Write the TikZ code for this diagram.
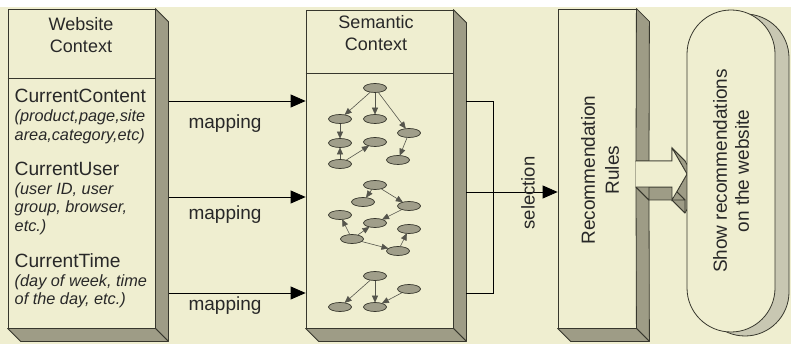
\documentclass[tikz,border=0pt]{standalone}
\usepackage{fontspec}
\setmainfont{Liberation Sans}
\usetikzlibrary{arrows.meta,shapes.geometric,shapes.misc,calc}
\definecolor{bg}{RGB}{239,238,208}
\definecolor{shadec}{RGB}{158,156,134}
\definecolor{edgec}{RGB}{55,55,45}
\definecolor{txt}{RGB}{40,40,40}
\definecolor{gnode}{RGB}{160,158,138}
\definecolor{shadowc}{RGB}{200,199,178}
\tikzset{
  boxface/.style={draw=edgec, line width=0.8pt, fill=bg, inner sep=0pt},
  side/.style={draw=edgec, line width=0.8pt, fill=shadec, line join=round},
  hdr/.style={text=txt, align=center, font=\fontsize{18}{21.5}\selectfont, inner sep=0pt},
  mainlbl/.style={text=txt, anchor=base west, font=\fontsize{19.2}{22}\selectfont, inner sep=0pt},
  sublbl/.style={text=txt, anchor=base west, font=\fontsize{16.3}{19}\selectfont\itshape, inner sep=0pt},
  maplbl/.style={text=txt, anchor=base, font=\fontsize{19}{22}\selectfont, inner sep=0pt},
  maparrow/.style={draw=black, line width=0.8pt, -{Triangle[length=15pt,width=13pt]}},
  plainline/.style={draw=black, line width=0.8pt},
  gn/.style={ellipse, draw=edgec, line width=0.7pt, fill=gnode, minimum width=23pt, minimum height=9pt, inner sep=0pt},
  ge/.style={draw=edgec!85, line width=0.6pt, -{Triangle[length=7pt,width=6pt]}, shorten >=-0.5pt},
  stadium/.style={rounded rectangle, rotate=90, minimum width=322pt, minimum height=88pt, inner sep=0pt, draw=edgec, line width=0.8pt, align=center, text=txt, font=\fontsize{19}{22}\selectfont}
}
\begin{document}
\begin{tikzpicture}[x=1pt,y=-1pt]
\useasboundingbox (0,0) rectangle (791,344);
\fill[white] (0,0) rectangle (791,344);
\fill[bg] (0,7) rectangle (791,344);

% ---------- Website Context box ----------
\node[boxface, minimum width=147pt, minimum height=319pt] (wc) at (81.5,168.5) {};
\draw[side] (wc.north east) -- ++(13,13) -- ($(wc.south east)+(13,13)$) -- (wc.south east) -- cycle;
\draw[side] (wc.south west) -- ++(13,13) -- ($(wc.south east)+(13,13)$) -- (wc.south east) -- cycle;
\draw[edgec, line width=0.8pt] ($(wc.north west)+(0,70)$) -- ($(wc.north east)+(0,70)$);
\node[hdr] (wct) at (81,35) {Website\\Context};
\node[mainlbl] (cc) at (14.5,103) {CurrentContent};
\node[sublbl] (cc1) at (14.5,122) {(product,page,site};
\node[sublbl] (cc2) at (14.5,141) {area,category,etc)};
\node[mainlbl] (cu) at (14.5,176) {CurrentUser};
\node[sublbl] (cu1) at (14.5,195) {(user ID, user};
\node[sublbl] (cu2) at (14.5,213) {group, browser,};
\node[sublbl] (cu3) at (14.5,232) {etc.)};
\node[mainlbl] (ct) at (14.5,267) {CurrentTime};
\node[sublbl] (ct1) at (14.5,286) {(day of week, time};
\node[sublbl] (ct2) at (14.5,304) {of the day, etc.)};

% ---------- Semantic Context box ----------
\node[boxface, minimum width=147pt, minimum height=318pt] (sc) at (379.5,169) {};
\draw[side] (sc.north east) -- ++(13,13) -- ($(sc.south east)+(13,13)$) -- (sc.south east) -- cycle;
\draw[side] (sc.south west) -- ++(13,13) -- ($(sc.south east)+(13,13)$) -- (sc.south east) -- cycle;
\draw[edgec, line width=0.8pt] ($(sc.north west)+(0,64)$) -- ($(sc.north east)+(0,64)$);
\node[hdr] (sct) at (376,33) {Semantic\\Context};

% mapping arrows
\coordinate (m1) at (169,101);
\coordinate (m2) at (169,197);
\coordinate (m3) at (169,293);
\draw[maparrow] (m1) -- (m1 -| sc.west);
\draw[maparrow] (m2) -- (m2 -| sc.west);
\draw[maparrow] (m3) -- (m3 -| sc.west);
\node[maplbl] (ml1) at (225,129) {mapping};
\node[maplbl] (ml2) at (225,220) {mapping};
\node[maplbl] (ml3) at (225,310) {mapping};

% graph 1
\node[gn] (a1) at (375,88) {};
\node[gn] (b1) at (340,119) {};
\node[gn] (c1) at (375,119) {};
\node[gn] (d1) at (409,133) {};
\node[gn] (e1) at (340,143) {};
\node[gn] (f1) at (375,142) {};
\node[gn] (g1) at (340,164) {};
\node[gn] (h1) at (398,160) {};
\draw[ge] (a1) -- (b1);
\draw[ge] (a1) -- (c1);
\draw[ge] (a1) -- (d1);
\draw[ge] (b1) -- (e1);
\draw[ge] (g1) -- (e1);
\draw[ge] (g1) -- (f1);
\draw[ge] (d1) -- (h1);
% graph 2
\node[gn] (p2) at (375,185) {};
\node[gn] (q2) at (363,202) {};
\node[gn] (r2) at (409,206) {};
\node[gn] (s2) at (340,215) {};
\node[gn] (t2) at (375,223) {};
\node[gn] (u2) at (409,229) {};
\node[gn] (v2) at (352,239) {};
\node[gn] (w2) at (398,251) {};
\draw[ge] (p2) -- (q2);
\draw[ge] (p2) -- (r2);
\draw[ge] (r2) -- (t2);
\draw[ge] (v2) -- (s2);
\draw[ge] (v2) -- (t2);
\draw[ge] (v2) -- (w2);
\draw[ge] (w2) -- (u2);
% graph 3
\node[gn] (x3) at (375,276) {};
\node[gn] (y3) at (340,307) {};
\node[gn] (z3) at (375,307) {};
\node[gn] (k3) at (409,289) {};
\draw[ge] (x3) -- (y3);
\draw[ge] (x3) -- (z3);
\draw[ge] (k3) -- (z3);

% ---------- Recommendation Rules box ----------
\node[boxface, minimum width=78pt, minimum height=319pt] (rr) at (597,168.5) {};
\draw[side] (rr.north east) -- ++(13,13) -- (649,161) -- (636,161) -- cycle;
\draw[side] (636,187) -- (649,200) -- ($(rr.south east)+(13,13)$) -- (rr.south east) -- cycle;
\draw[side] (rr.south west) -- ++(13,13) -- ($(rr.south east)+(13,13)$) -- (rr.south east) -- cycle;
\node[text=txt, rotate=90, align=center, font=\fontsize{19}{24}\selectfont, inner sep=0pt] (rrt) at (600,170) {Recommendation\\Rules};

% selection bracket and arrow
\coordinate (sa) at (466,101);
\coordinate (sb) at (466,293);
\coordinate (sel) at (466,192);
\draw[plainline] (sa) -- (493,101) -- (493,293) -- (sb);
\draw[maparrow] (sel) -- (sel -| rr.west);
\node[text=txt, rotate=90, font=\fontsize{18.5}{22}\selectfont, inner sep=0pt] (selt) at (528,193) {selection};

% ---------- block arrow with extrusion ----------
\foreach \ax/\ay/\bx/\by in {636/161/672/161, 672/161/672/148, 672/148/687/174, 687/174/672/200, 672/200/672/187, 672/187/636/187, 636/187/636/161}{
  \draw[side] (\ax,\ay) -- (\bx,\by) -- ($(\bx,\by)+(13,13)$) -- ($(\ax,\ay)+(13,13)$) -- cycle;
}
\draw[edgec, line width=0.8pt, fill=bg] (636,161) -- (672,161) -- (672,148) -- (687,174) -- (672,200) -- (672,187) -- (636,187);

% ---------- Show recommendations ----------
\node[stadium, fill=shadowc] (shsh) at (745,175) {};
\node[stadium, fill=bg] (show) at (731,171) {Show recommendations\\on the website};
\end{tikzpicture}
\end{document}
